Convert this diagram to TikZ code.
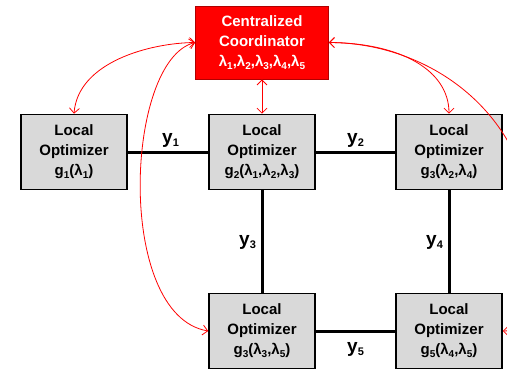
\documentclass[tikz,border=0pt]{standalone}
\usepackage{fontspec}
\setmainfont{Liberation Sans}
\usetikzlibrary{arrows.meta}
\definecolor{boxgray}{HTML}{D9D9D9}
\definecolor{coordred}{HTML}{FF0000}
\definecolor{coordedge}{HTML}{B00000}
\newcommand\lsub[1]{\raisebox{-2.5pt}{\fontsize{10}{10}\selectfont #1}}
\newcommand\ysub[1]{\raisebox{-3.5pt}{\fontsize{11}{11}\selectfont #1}}
\begin{document}
\begin{tikzpicture}[x=1pt,y=1pt,
  optbox/.style={draw=black, line width=1.6pt, fill=boxgray, minimum width=106pt,
    minimum height=75pt, align=center, inner sep=0pt,
    font=\bfseries\fontsize{15}{20}\selectfont},
  coordbox/.style={draw=coordedge, line width=0.8pt, fill=coordred, text=white,
    minimum width=133pt, minimum height=73pt, align=center, inner sep=0pt,
    font=\bfseries\fontsize{15}{20}\selectfont},
  link/.style={line width=3pt, draw=black},
  lab/.style={font=\bfseries\fontsize{19}{20}\selectfont, inner sep=0pt, anchor=base west},
  msg/.style={draw=red, line width=0.8pt,
    {Straight Barb[length=5pt,width=10pt]}-{Straight Barb[length=5pt,width=10pt]}}
]
\clip (0,0) rectangle (507,-368);
\fill[white] (0,0) rectangle (507,-368);

\node[coordbox] (cc) at (262,-42.5) {Centralized\\Coordinator\\
  λ\lsub{1},λ\lsub{2},λ\lsub{3},λ\lsub{4},λ\lsub{5}};

\node[optbox] (g1) at (74,-152) {Local\\Optimizer\\g\lsub{1}(λ\lsub{1})};
\node[optbox] (g2) at (262,-152) {Local\\Optimizer\\g\lsub{2}(λ\lsub{1},λ\lsub{2},λ\lsub{3})};
\node[optbox] (g3) at (449,-152) {Local\\Optimizer\\g\lsub{3}(λ\lsub{2},λ\lsub{4})};
\node[optbox] (g4) at (262,-331) {Local\\Optimizer\\g\lsub{3}(λ\lsub{3},λ\lsub{5})};
\node[optbox] (g5) at (449,-331) {Local\\Optimizer\\g\lsub{5}(λ\lsub{4},λ\lsub{5})};

\draw[link] (g1.east) -- (g2.west);
\draw[link] (g2.east) -- (g3.west);
\draw[link] (g2.south) -- (g4.north);
\draw[link] (g3.south) -- (g5.north);
\draw[link] (g4.east) -- (g5.west);

\node[lab] (y1) at (162,-143) {y\ysub{1}};
\node[lab] (y2) at (347,-143) {y\ysub{2}};
\node[lab] (y3) at (239,-245) {y\ysub{3}};
\node[lab] (y4) at (426,-245) {y\ysub{4}};
\node[lab] (y5) at (347,-352) {y\ysub{5}};

\coordinate (ebend) at (530,-200);
\draw[msg] (cc.south) -- (g2.north);
\draw[msg] (cc.west) .. controls (150,-43) and (78,-62) .. (g1.north);
\draw[msg] (cc.west) .. controls (125,-60) and (115,-315) .. (g4.west);
\draw[msg] (cc.east) .. controls (400,-43) and (449,-70) .. (g3.north);
\draw[msg] (cc.east) .. controls (420,-43) and (510,-100) .. (ebend)
  .. controls (545,-270) and (540,-331) .. (g5.east);
\end{tikzpicture}
\end{document}
